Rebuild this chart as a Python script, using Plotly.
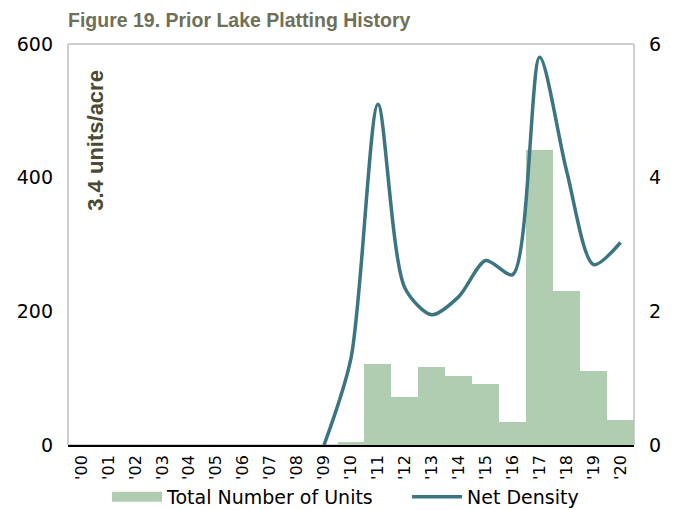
import plotly.graph_objects as go

years = ["'00", "'01", "'02", "'03", "'04", "'05", "'06", "'07", "'08", "'09", "'10",
         "'11", "'12", "'13", "'14", "'15", "'16", "'17", "'18", "'19", "'20"]
units = [0, 0, 0, 0, 0, 0, 0, 0, 0, 0, 5,
         121, 72, 117, 103, 92, 34, 442, 231, 110, 37]
density_years = ["'09", "'10", "'11", "'12", "'13", "'14", "'15", "'16", "'17", "'18", "'19", "'20"]
density = [0, 1.3, 5.1, 2.35, 1.95, 2.22, 2.76, 2.55, 5.8, 4.1, 2.7, 3.03]

bar_color = "#b0cdb1"
line_color = "#3b7582"
font_main = "DejaVu Sans, sans-serif"

# page body has an 8px margin, so the figure is a bit smaller than the window
W, H = 677, 502

fig = go.Figure()

fig.add_trace(go.Bar(
    x=years, y=units, name="Total Number of Units", showlegend=False,
    marker=dict(color=bar_color, line=dict(width=0)),
))

# legend proxy so the bar key is drawn as a wide block like the original
fig.add_trace(go.Scatter(
    x=[None], y=[None], name="Total Number of Units", mode="lines",
    line=dict(color=bar_color, width=11), legend="legend",
))

fig.add_trace(go.Scatter(
    x=density_years, y=density, name="Net Density", yaxis="y2",
    mode="lines", line=dict(color=line_color, width=3.5, shape="spline", smoothing=0.8),
    legend="legend2",
))

leg_common = dict(orientation="h", xanchor="left", yref="container",
                  y=13 / H, yanchor="middle", bgcolor="rgba(0,0,0,0)",
                  font=dict(size=19), itemwidth=50)

fig.update_layout(
    width=W, height=H,
    margin=dict(l=60, r=51, t=36, b=65),
    paper_bgcolor="white", plot_bgcolor="white",
    bargap=0,
    showlegend=True,
    font=dict(family=font_main, size=19, color="black"),
    title=dict(text="<b>Figure 19. Prior Lake Platting History</b>",
               x=60 / W, xanchor="left", y=1 - 12 / H, yanchor="middle",
               font=dict(family="Liberation Sans, Arial, sans-serif", size=19.5, color="#6e7058")),
    xaxis=dict(categoryorder="array", categoryarray=years, tickangle=-90,
               showline=True, linecolor="black", linewidth=1.5, ticks="",
               tickfont=dict(size=16), ticklabelstandoff=2,
               showgrid=False, zeroline=False, automargin=False),
    yaxis=dict(range=[0, 600], tickvals=[0, 200, 400, 600], showgrid=False,
               zeroline=False, ticks="", ticklabelstandoff=14, showline=False,
               automargin=False),
    yaxis2=dict(range=[0, 6], tickvals=[0, 2, 4, 6], overlaying="y", side="right",
                showgrid=False, zeroline=False, ticks="", ticklabelstandoff=14,
                automargin=False),
    legend=dict(x=0.069, **leg_common),
    legend2=dict(x=0.599, **leg_common),
    shapes=[dict(type="rect", xref="paper", yref="paper", x0=0, x1=1, y0=0, y1=1,
                 line=dict(color="#a0a0a0", width=1), layer="below")],
    annotations=[dict(text="<b>3.4 units/acre</b>", xref="paper", yref="paper",
                      x=0.048, y=0.94, xanchor="center", yanchor="top", textangle=-90,
                      showarrow=False,
                      font=dict(family="Liberation Sans, Arial, sans-serif", size=22, color="#4b4a32"))],
)

fig.write_html("out.html")
